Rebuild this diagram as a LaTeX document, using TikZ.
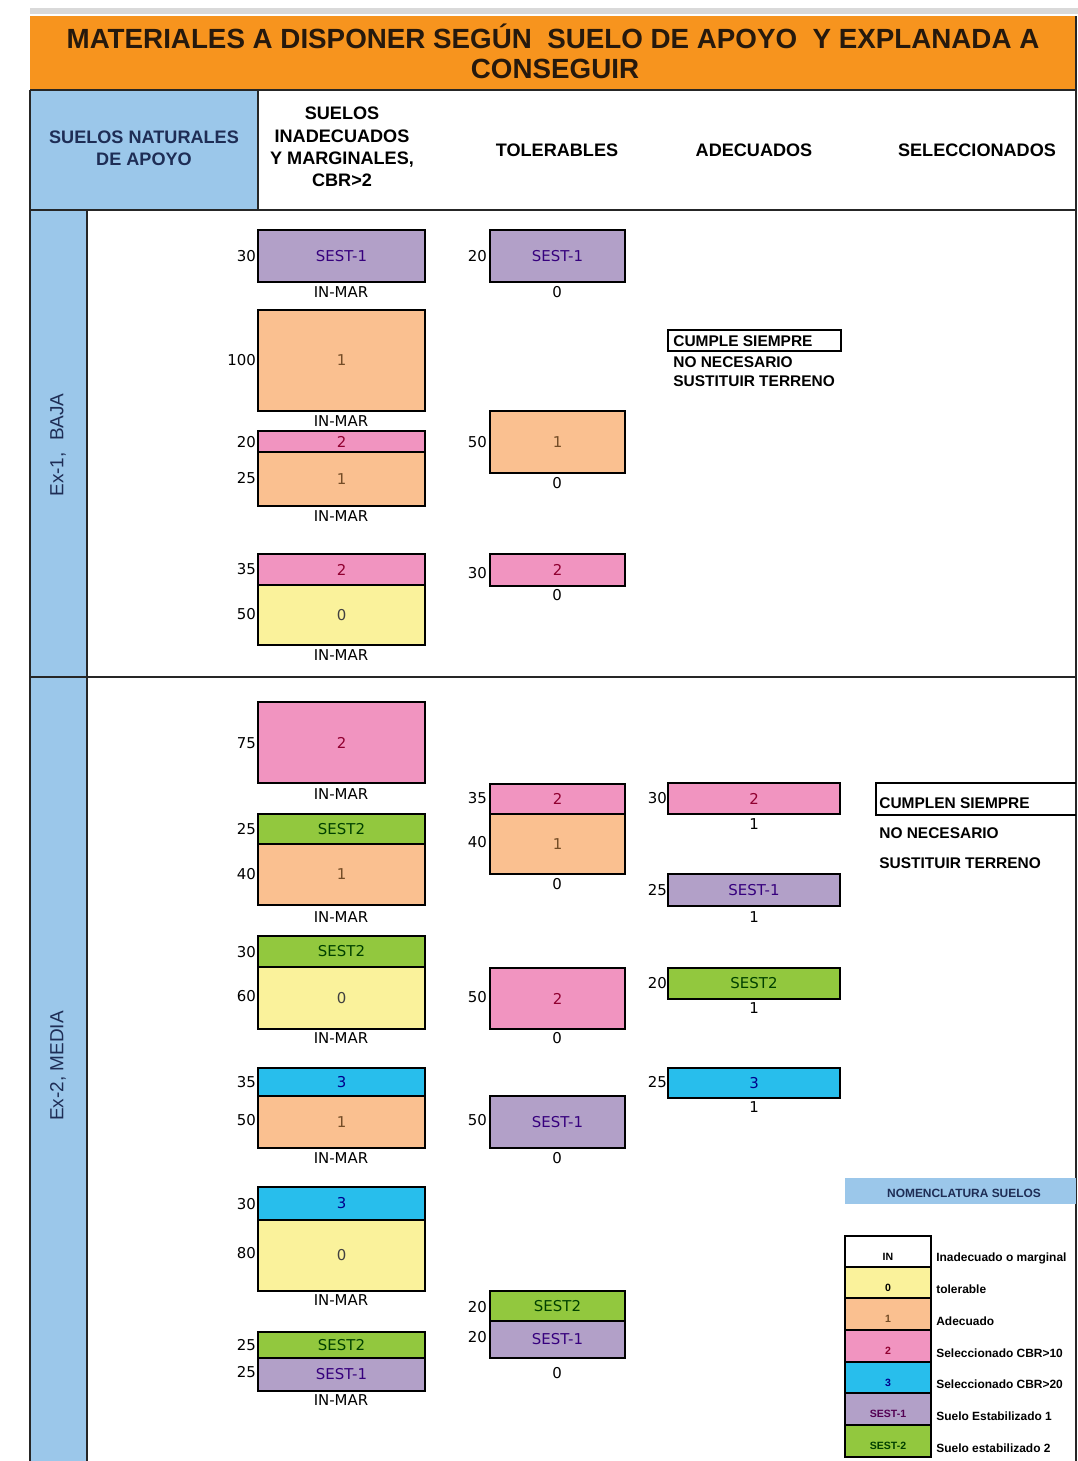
\documentclass[tikz,border=0pt]{standalone}
\usepackage{fontspec}
\setmainfont{Liberation Sans}
\newfontfamily\dejavu{DejaVu Sans}
\usepackage{xcolor}
\usetikzlibrary{positioning}

\definecolor{naranja}{RGB}{247,148,30}
\definecolor{azulcel}{RGB}{155,199,234}
\definecolor{marino}{RGB}{30,45,85}
\definecolor{amarillo}{RGB}{250,242,155}
\definecolor{salmon}{RGB}{250,192,144}
\definecolor{rosa}{RGB}{241,148,192}
\definecolor{cian}{RGB}{40,190,236}
\definecolor{lila}{RGB}{178,160,200}
\definecolor{verde}{RGB}{146,200,62}

\tikzset{
  capa/.style={draw=black, line width=1pt, font=\dejavu\fontsize{8.5}{10}\selectfont},
  c0/.style={capa, fill=amarillo, text=black!75},
  c1/.style={capa, fill=salmon, text=brown!60!black},
  c2/.style={capa, fill=rosa, text=purple!75!black},
  c3/.style={capa, fill=cian, text=blue!55!black},
  cs1/.style={capa, fill=lila, text=violet!60!blue!70!black},
  cs2/.style={capa, fill=verde, text=green!25!black},
  esp/.style={anchor=east, inner sep=0.5pt, font=\dejavu\fontsize{8.5}{10}\selectfont},
  base/.style={inner sep=0pt, font=\dejavu\fontsize{8.5}{10}\selectfont},
  rejilla/.style={line width=1.1pt, draw=black!85},
  titulo/.style={inner sep=0pt, text=black!80!brown, font=\bfseries\fontsize{15.8}{18}\selectfont},
  cabecera/.style={align=center, inner sep=0pt, font=\bfseries\fontsize{10.3}{12.7}\selectfont},
  fila/.style={rotate=90, inner sep=0pt, text=marino, font=\fontsize{10.8}{13}\selectfont},
  aviso/.style={anchor=west, inner sep=0pt, font=\bfseries\fontsize{8.8}{10}\selectfont},
  leyenda/.style={draw=black, line width=0.9pt, font=\bfseries\fontsize{6}{7}\selectfont},
  desc/.style={anchor=west, inner sep=0pt, font=\bfseries\fontsize{6.8}{7}\selectfont}
}

\begin{document}
\begin{tikzpicture}[x=0.02cm, y=-0.02cm]
\useasboundingbox (0,0) rectangle (1078,1461);

% fondos
\fill[black!15] (30,8) rectangle (1078,14);
\fill[naranja] (30,16) rectangle (1077,90);
\fill[azulcel] (30,90) rectangle (258,210);
\fill[azulcel] (30,210) rectangle (87,1461);

% rejilla
\draw[rejilla] (30,90) -- (1077,90);
\draw[rejilla] (30,210) -- (1077,210);
\draw[rejilla] (30,677) -- (1077,677);
\draw[rejilla] (258,90) -- (258,210);
\draw[rejilla] (30,90) -- (30,1461);
\draw[rejilla] (87,210) -- (87,1461);
\draw[rejilla] (1076,16) -- (1076,1461);

% titulo y cabeceras
\node[titulo](tit1) at (553,36) {MATERIALES A DISPONER SEGÚN\ \ SUELO DE APOYO\ \ Y EXPLANADA A};
\node[titulo](tit2) at (555,69) {CONSEGUIR};
\node[cabecera, text=marino](h0) at (144,148) {SUELOS NATURALES\\DE APOYO};
\node[cabecera](h1) at (342,147) {SUELOS\\INADECUADOS\\Y MARGINALES,\\CBR>2};
\node[cabecera](h2) at (557,150) {TOLERABLES};
\node[cabecera](h3) at (754,150) {ADECUADOS};
\node[cabecera](h4) at (977,150) {SELECCIONADOS};
\node[fila](f1) at (58,445) {Ex-1,\hspace{0.6em}BAJA};
\node[fila](f2) at (58,1066) {Ex-2, MEDIA};

% Ex-1, inadecuados
\draw[cs1] (258,230) rectangle (425,282) node[midway](a1){SEST-1};
\node[esp](ea1) at (257,256) {30};
\node[base](ba1) at (341,292) {IN-MAR};
\draw[c1] (258,310) rectangle (425,411) node[midway](a2){1};
\node[esp](ea2) at (257,360) {100};
\node[base](ba2) at (341,421) {IN-MAR};
\draw[c2] (258,431) rectangle (425,452) node[midway](a3){2};
\draw[c1] (258,452) rectangle (425,506) node[midway](a4){1};
\node[esp](ea3) at (257,442) {20};
\node[esp](ea4) at (257,478) {25};
\node[base](ba4) at (341,516) {IN-MAR};
\draw[c2] (258,554) rectangle (425,585) node[midway](a5){2};
\draw[c0] (258,585) rectangle (425,645) node[midway](a6){0};
\node[esp](ea5) at (257,569) {35};
\node[esp](ea6) at (257,614) {50};
\node[base](ba6) at (341,655) {IN-MAR};

% Ex-1, tolerables
\draw[cs1] (490,230) rectangle (625,282) node[midway](b1){SEST-1};
\node[esp](eb1) at (488,256) {20};
\node[base](bb1) at (557,292) {0};
\draw[c1] (490,411) rectangle (625,473) node[midway](b2){1};
\node[esp](eb2) at (488,442) {50};
\node[base](bb2) at (557,483) {0};
\draw[c2] (490,554) rectangle (625,586) node[midway](b3){2};
\node[esp](eb3) at (488,573) {30};
\node[base](bb3) at (557,595) {0};

% Ex-1, adecuados
\draw[line width=0.9pt] (668,330) rectangle (841,351);
\node[aviso](v1) at (673,341) {CUMPLE SIEMPRE};
\node[aviso](v2) at (673,362) {NO NECESARIO};
\node[aviso](v3) at (673,381) {SUSTITUIR TERRENO};

% Ex-2, inadecuados
\draw[c2] (258,702) rectangle (425,783) node[midway](m1){2};
\node[esp](em1) at (257,743) {75};
\node[base](bm1) at (341,794) {IN-MAR};
\draw[cs2] (258,814) rectangle (425,844) node[midway](m2){SEST2};
\draw[c1] (258,844) rectangle (425,905) node[midway](m3){1};
\node[esp](em2) at (257,829) {25};
\node[esp](em3) at (257,874) {40};
\node[base](bm3) at (341,917) {IN-MAR};
\draw[cs2] (258,936) rectangle (425,967) node[midway](m4){SEST2};
\draw[c0] (258,967) rectangle (425,1029) node[midway](m5){0};
\node[esp](em4) at (257,952) {30};
\node[esp](em5) at (257,996) {60};
\node[base](bm5) at (341,1038) {IN-MAR};
\draw[c3] (258,1068) rectangle (425,1096) node[midway](m6){3};
\draw[c1] (258,1096) rectangle (425,1148) node[midway](m7){1};
\node[esp](em6) at (257,1082) {35};
\node[esp](em7) at (257,1120) {50};
\node[base](bm7) at (341,1158) {IN-MAR};
\draw[c3] (258,1187) rectangle (425,1220) node[midway](m8){3};
\draw[c0] (258,1220) rectangle (425,1291) node[midway](m9){0};
\node[esp](em8) at (257,1204) {30};
\node[esp](em9) at (257,1253) {80};
\node[base](bm9) at (341,1300) {IN-MAR};
\draw[cs2] (258,1332) rectangle (425,1358) node[midway](m10){SEST2};
\draw[cs1] (258,1358) rectangle (425,1391) node[midway](m11){SEST-1};
\node[esp](em10) at (257,1345) {25};
\node[esp](em11) at (257,1372) {25};
\node[base](bm11) at (341,1400) {IN-MAR};

% Ex-2, tolerables
\draw[c2] (490,784) rectangle (625,814) node[midway](n1){2};
\draw[c1] (490,814) rectangle (625,874) node[midway](n2){1};
\node[esp](en1) at (488,798) {35};
\node[esp](en2) at (488,842) {40};
\node[base](bn2) at (557,884) {0};
\draw[c2] (490,968) rectangle (625,1029) node[midway](n3){2};
\node[esp](en3) at (488,997) {50};
\node[base](bn3) at (557,1038) {0};
\draw[cs1] (490,1096) rectangle (625,1148) node[midway](n4){SEST-1};
\node[esp](en4) at (488,1120) {50};
\node[base](bn4) at (557,1158) {0};
\draw[cs2] (490,1291) rectangle (625,1321) node[midway](n5){SEST2};
\draw[cs1] (490,1321) rectangle (625,1358) node[midway](n6){SEST-1};
\node[esp](en5) at (488,1307) {20};
\node[esp](en6) at (488,1337) {20};
\node[base](bn6) at (557,1373) {0};

% Ex-2, adecuados
\draw[c2] (668,783) rectangle (840,814) node[midway](p1){2};
\node[esp](ep1) at (668,798) {30};
\node[base](bp1) at (754,824) {1};
\draw[cs1] (668,874) rectangle (840,906) node[midway](p2){SEST-1};
\node[esp](ep2) at (668,890) {25};
\node[base](bp2) at (754,917) {1};
\draw[cs2] (668,968) rectangle (840,999) node[midway](p3){SEST2};
\node[esp](ep3) at (668,983) {20};
\node[base](bp3) at (754,1008) {1};
\draw[c3] (668,1068) rectangle (840,1098) node[midway](p4){3};
\node[esp](ep4) at (668,1082) {25};
\node[base](bp4) at (754,1107) {1};

% Ex-2, seleccionados
\draw[line width=0.9pt] (1076,783) -- (876,783) -- (876,815) -- (1076,815);
\node[aviso](w1) at (879,803) {CUMPLEN SIEMPRE};
\node[aviso](w2) at (879,833) {NO NECESARIO};
\node[aviso](w3) at (879,863) {SUSTITUIR TERRENO};

% nomenclatura
\fill[azulcel] (845,1178) rectangle (1076,1204);
\node[text=marino, font=\bfseries\fontsize{6.8}{8}\selectfont](ley) at (964,1193) {NOMENCLATURA SUELOS};
\draw[leyenda, fill=white] (845,1236) rectangle (931,1267) node[midway, yshift=-3pt](l1){IN};
\draw[leyenda, fill=amarillo] (845,1267) rectangle (931,1298) node[midway, yshift=-3pt](l2){0};
\draw[leyenda, fill=salmon] (845,1298) rectangle (931,1330) node[midway, yshift=-3pt, text=brown!60!black](l3){1};
\draw[leyenda, fill=rosa] (845,1330) rectangle (931,1362) node[midway, yshift=-3pt, text=purple!75!black](l4){2};
\draw[leyenda, fill=cian] (845,1362) rectangle (931,1393) node[midway, yshift=-3pt, text=blue!55!black](l5){3};
\draw[leyenda, fill=lila] (845,1393) rectangle (931,1425) node[midway, yshift=-3pt, text=violet!65!black](l6){SEST-1};
\draw[leyenda, fill=verde] (845,1425) rectangle (931,1457) node[midway, yshift=-3pt, text=green!25!black](l7){SEST-2};
\node[desc](d1) at (936,1258) {Inadecuado o marginal};
\node[desc](d2) at (936,1289) {tolerable};
\node[desc](d3) at (936,1321) {Adecuado};
\node[desc](d4) at (936,1353) {Seleccionado CBR>10};
\node[desc](d5) at (936,1384) {Seleccionado CBR>20};
\node[desc](d6) at (936,1416) {Suelo Estabilizado 1};
\node[desc](d7) at (936,1448) {Suelo estabilizado 2};
\end{tikzpicture}
\end{document}
